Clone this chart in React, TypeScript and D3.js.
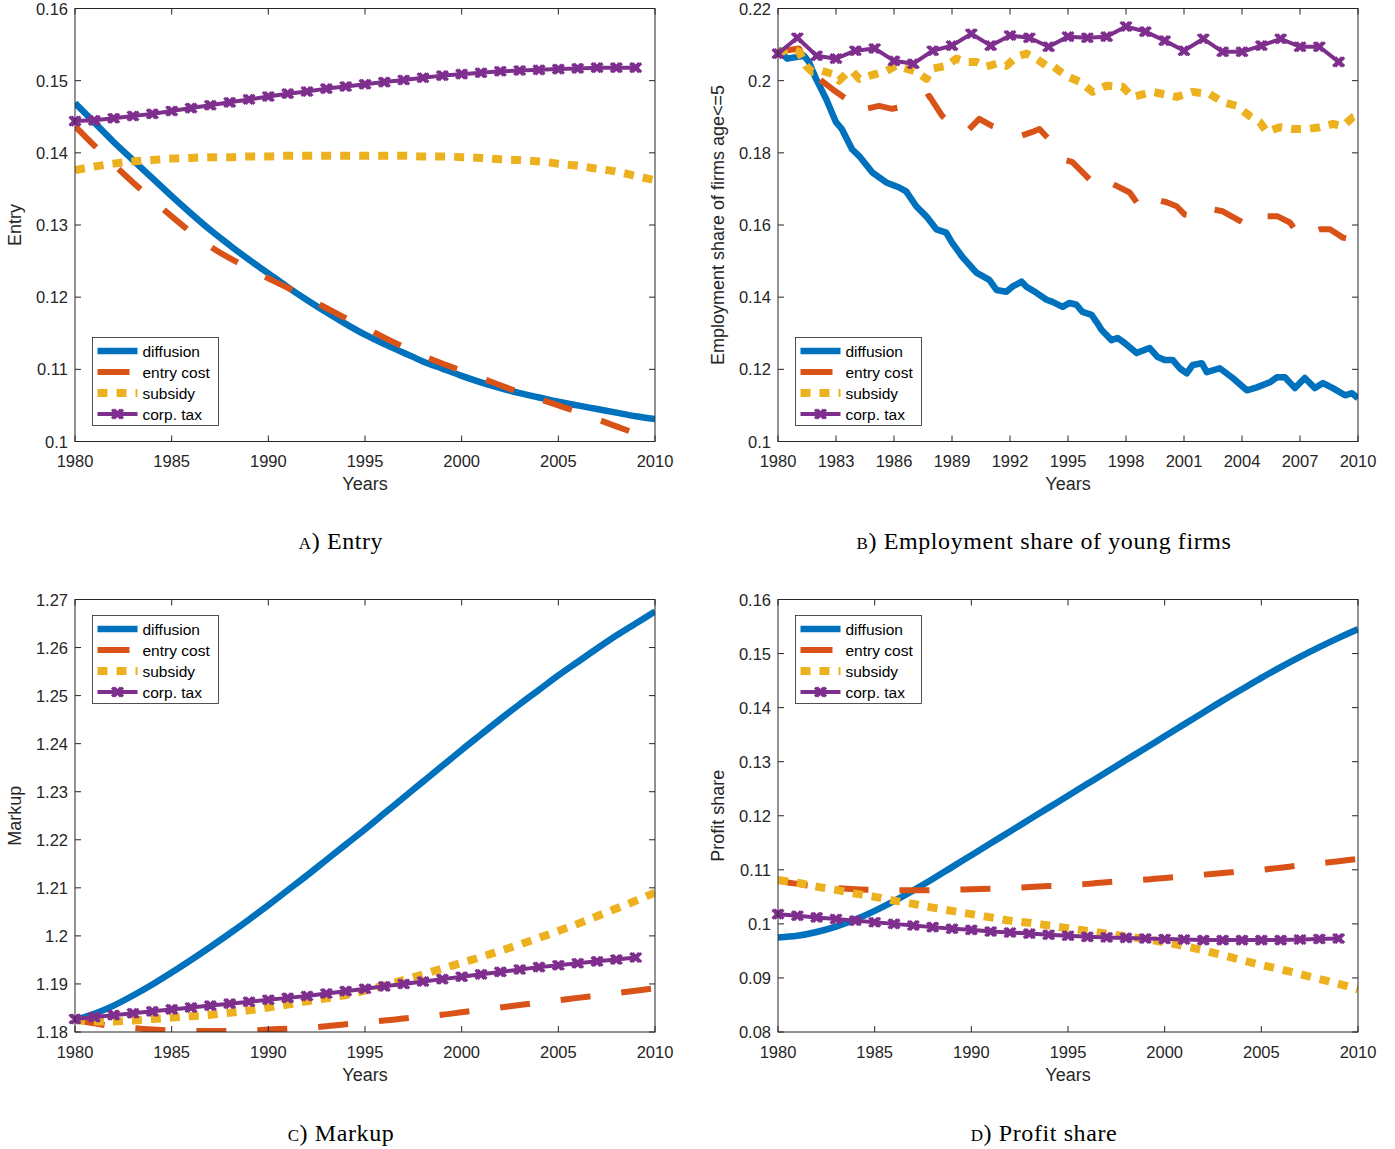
import * as d3 from "d3";

type Pt = [number, number];

// ---- shared axes data ----
const YEARS = [
  1980, 1981, 1982, 1983, 1984, 1985, 1986, 1987, 1988, 1989, 1990, 1991, 1992, 1993, 1994, 1995,
  1996, 1997, 1998, 1999, 2000, 2001, 2002, 2003, 2004, 2005, 2006, 2007, 2008, 2009, 2010,
];
const TAX_YEARS = YEARS.slice(0, 30);
const TICKS_5Y = [1980, 1985, 1990, 1995, 2000, 2005, 2010];
const TICKS_3Y = [1980, 1983, 1986, 1989, 1992, 1995, 1998, 2001, 2004, 2007, 2010];
const LEGEND_LABELS = ["diffusion", "entry cost", "subsidy", "corp. tax"];

// ---- a) Entry ----
const entryTicks = [0.1, 0.11, 0.12, 0.13, 0.14, 0.15, 0.16];
const entryDiffusion = [
  0.1469, 0.1442, 0.1415, 0.139, 0.1365, 0.134, 0.1316, 0.1293, 0.1272, 0.1252, 0.1233, 0.1214,
  0.1196, 0.1179, 0.1163, 0.1148, 0.1135, 0.1123, 0.1111, 0.1101, 0.1091, 0.1082, 0.1074, 0.1067,
  0.1061, 0.1055, 0.105, 0.1045, 0.104, 0.1035, 0.1031,
];
const entryCost = [
  0.1437, 0.141, 0.1384, 0.1359, 0.1335, 0.1312, 0.129, 0.127, 0.1254, 0.124, 0.1226, 0.1213,
  0.1199, 0.1185, 0.1171, 0.1158, 0.1144, 0.1131, 0.1119, 0.1108, 0.1098, 0.1088, 0.1078, 0.1068,
  0.1059, 0.105, 0.1041, 0.1031, 0.1021, 0.1011, 0.1,
];
const entrySubsidy = [
  0.1376, 0.1381, 0.1385, 0.1388, 0.139, 0.1392, 0.1393, 0.1394, 0.1394, 0.1395, 0.1395, 0.1396,
  0.1396, 0.1396, 0.1396, 0.1396, 0.1396, 0.1396, 0.1395, 0.1395, 0.1394, 0.1393, 0.1391, 0.139,
  0.1388, 0.1385, 0.1382, 0.1378, 0.1374, 0.1368, 0.1362,
];
const entryCorpTax = [
  0.1444, 0.1445, 0.1448, 0.1451, 0.1454, 0.1458, 0.1462, 0.1466, 0.147, 0.1474, 0.1478, 0.1482,
  0.1485, 0.1489, 0.1492, 0.1495, 0.1498, 0.1501, 0.1504, 0.1507, 0.1509, 0.1511, 0.1513, 0.1514,
  0.1515, 0.1516, 0.1517, 0.1518, 0.1518, 0.1518,
];

// ---- b) Employment share of young firms ----
const jobsTicks = [0.1, 0.12, 0.14, 0.16, 0.18, 0.2, 0.22];
const jobsDiffusion: Pt[] = [
  [1980.0, 0.2088], [1980.47, 0.2061], [1981.35, 0.2069], [1981.6, 0.2052], [1981.97, 0.2005],
  [1982.49, 0.1949], [1983.0, 0.1885], [1983.3, 0.1866], [1983.83, 0.181], [1984.2, 0.1791],
  [1984.87, 0.1746], [1985.6, 0.1718], [1986.27, 0.1704], [1986.63, 0.1693], [1987.15, 0.1652],
  [1987.67, 0.1624], [1988.19, 0.1588], [1988.7, 0.1579], [1989.0, 0.1551], [1989.53, 0.1512],
  [1990.26, 0.1468], [1990.93, 0.1448], [1991.3, 0.142], [1991.81, 0.1415], [1992.12, 0.1429],
  [1992.6, 0.1443], [1992.85, 0.1429], [1993.37, 0.1412], [1993.89, 0.1393], [1994.2, 0.1387],
  [1994.72, 0.1373], [1995.08, 0.1384], [1995.44, 0.1379], [1995.75, 0.1359], [1996.22, 0.1351],
  [1996.48, 0.1331], [1996.74, 0.1309], [1997.25, 0.1281], [1997.56, 0.1287], [1997.93, 0.1273],
  [1998.55, 0.1245], [1999.22, 0.1259], [1999.64, 0.1234], [2000.0, 0.1226], [2000.41, 0.1226],
  [2000.78, 0.1203], [2001.14, 0.1189], [2001.45, 0.1212], [2001.92, 0.1217], [2002.18, 0.1192],
  [2002.85, 0.1203], [2003.52, 0.1176], [2004.25, 0.1142], [2004.77, 0.115], [2005.44, 0.1164],
  [2005.8, 0.1178], [2006.22, 0.1178], [2006.74, 0.1148], [2007.25, 0.1176], [2007.77, 0.1148],
  [2008.19, 0.1162], [2008.7, 0.1148], [2009.33, 0.1128], [2009.69, 0.1134], [2010.0, 0.112],
];
const jobsEntryCost: Pt[] = [
  [1980.0, 0.208], [1981.09, 0.2089], [1981.76, 0.2013], [1982.12, 0.2005], [1982.8, 0.1977],
  [1983.52, 0.195], [1984.04, 0.1913], [1984.56, 0.1922], [1985.23, 0.193], [1985.9, 0.1922],
  [1986.63, 0.193], [1987.3, 0.1941], [1987.82, 0.1958], [1988.5, 0.1902], [1989.22, 0.1866],
  [1989.74, 0.1858], [1990.41, 0.1894], [1991.09, 0.1874], [1991.81, 0.186], [1992.49, 0.1846],
  [1993.16, 0.1858], [1993.52, 0.1866], [1994.4, 0.1816], [1994.72, 0.1782], [1995.23, 0.1774],
  [1996.11, 0.1727], [1996.63, 0.1699], [1997.15, 0.1718], [1998.19, 0.169], [1998.7, 0.1652],
  [1999.12, 0.1677], [2000.1, 0.1663], [2000.62, 0.1652], [2001.04, 0.1629], [2001.97, 0.1621],
  [2002.49, 0.1643], [2003.0, 0.1638], [2004.04, 0.1607], [2004.56, 0.1635], [2005.08, 0.1624],
  [2005.85, 0.1624], [2006.48, 0.1607], [2006.99, 0.1568], [2008.03, 0.1588], [2008.55, 0.1588],
  [2009.22, 0.1565], [2010.0, 0.1555],
];
const jobsSubsidy: Pt[] = [
  [1980.0, 0.2075], [1980.57, 0.2089], [1981.09, 0.208], [1981.45, 0.2041], [1981.76, 0.2025],
  [1982.28, 0.2027], [1982.8, 0.2019], [1983.16, 0.2], [1983.52, 0.2019], [1983.83, 0.2027],
  [1984.2, 0.2005], [1984.56, 0.2011], [1985.08, 0.2019], [1985.6, 0.2027], [1986.11, 0.2041],
  [1986.63, 0.2033], [1987.15, 0.2025], [1987.67, 0.2005], [1987.98, 0.2033], [1988.7, 0.2041],
  [1989.22, 0.2061], [1989.74, 0.2052], [1990.26, 0.2052], [1990.78, 0.2039], [1991.3, 0.2047],
  [1991.81, 0.2041], [1992.33, 0.2066], [1992.85, 0.2075], [1993.37, 0.2061], [1993.89, 0.2041],
  [1994.2, 0.2041], [1994.92, 0.2013], [1995.6, 0.1997], [1996.27, 0.1969], [1996.99, 0.1986],
  [1997.82, 0.1983], [1998.34, 0.1955], [1999.38, 0.1969], [1999.9, 0.1963], [2000.62, 0.1955],
  [2001.45, 0.1969], [2002.33, 0.1963], [2003.0, 0.1941], [2003.73, 0.193], [2004.4, 0.1902],
  [2004.92, 0.1885], [2005.28, 0.1858], [2005.96, 0.1871], [2006.63, 0.1866], [2007.36, 0.1866],
  [2008.03, 0.1871], [2008.7, 0.188], [2009.22, 0.1874], [2009.74, 0.1899], [2010.0, 0.1905],
];
const jobsCorpTax = [
  0.2075, 0.2119, 0.2069, 0.2061, 0.2083, 0.2089, 0.2055, 0.2047, 0.2083, 0.2097, 0.213, 0.2097,
  0.2125, 0.2119, 0.2094, 0.2122, 0.2119, 0.2122, 0.215, 0.2136, 0.2111, 0.2083, 0.2116, 0.208,
  0.208, 0.2097, 0.2116, 0.2094, 0.2094, 0.2052,
];

// ---- c) Markup ----
const markupTicks = [1.18, 1.19, 1.2, 1.21, 1.22, 1.23, 1.24, 1.25, 1.26, 1.27];
const markupDiffusion = [
  1.1825, 1.1838, 1.1855, 1.1876, 1.1899, 1.1924, 1.195, 1.1977, 1.2005, 1.2034, 1.2064, 1.2095,
  1.2126, 1.2158, 1.219, 1.2222, 1.2255, 1.2288, 1.2321, 1.2354, 1.2387, 1.2419, 1.2451, 1.2482,
  1.2512, 1.2542, 1.257, 1.2598, 1.2625, 1.265, 1.2675,
];
const markupEntry = [
  1.1825, 1.1818, 1.1812, 1.1808, 1.1805, 1.1803, 1.1802, 1.1802, 1.1802, 1.1803, 1.1805, 1.1807,
  1.1809, 1.1812, 1.1816, 1.1819, 1.1824, 1.1828, 1.1832, 1.1836, 1.1841, 1.1846, 1.1851, 1.1856,
  1.1861, 1.1866, 1.1871, 1.1876, 1.1881, 1.1886, 1.1891,
];
const markupSubsidy = [
  1.1825, 1.1822, 1.1822, 1.1824, 1.1827, 1.183, 1.1833, 1.1836, 1.184, 1.1845, 1.1851, 1.1857,
  1.1864, 1.187, 1.1877, 1.1886, 1.1897, 1.1908, 1.192, 1.1932, 1.1944, 1.1956, 1.1969, 1.1982,
  1.1996, 1.201, 1.2025, 1.2041, 1.2057, 1.2073, 1.209,
];
const markupCorpTax = [
  1.1827, 1.1831, 1.1835, 1.1839, 1.1843, 1.1847, 1.1851, 1.1855, 1.1859, 1.1863, 1.1867, 1.1871,
  1.1875, 1.188, 1.1885, 1.189, 1.1895, 1.19, 1.1905, 1.191, 1.1915, 1.192, 1.1925, 1.193, 1.1935,
  1.1939, 1.1943, 1.1947, 1.1951, 1.1955,
];

// ---- d) Profit share ----
const profitTicks = [0.08, 0.09, 0.1, 0.11, 0.12, 0.13, 0.14, 0.15, 0.16];
const profitDiffusion = [
  0.0975, 0.0978, 0.0985, 0.0995, 0.1008, 0.1024, 0.1042, 0.1062, 0.1083, 0.1105, 0.1127, 0.1149,
  0.1171, 0.1193, 0.1215, 0.1237, 0.1259, 0.1281, 0.1303, 0.1325, 0.1347, 0.1369, 0.1391, 0.1413,
  0.1434, 0.1455, 0.1475, 0.1494, 0.1512, 0.1529, 0.1545,
];
const profitEntry = [
  0.108, 0.1074, 0.1069, 0.1066, 0.1064, 0.1063, 0.1062, 0.1062, 0.1062, 0.1063, 0.1064, 0.1065,
  0.1066, 0.1068, 0.107, 0.1072, 0.1074, 0.1077, 0.108, 0.1082, 0.1085, 0.1088, 0.1091, 0.1094,
  0.1097, 0.11, 0.1104, 0.1108, 0.1112, 0.1116, 0.112,
];
const profitSubsidy = [
  0.1081, 0.1076, 0.1069, 0.1063, 0.1056, 0.105, 0.1043, 0.1037, 0.103, 0.1024, 0.1018, 0.1012,
  0.1006, 0.1002, 0.0997, 0.0992, 0.0987, 0.0982, 0.0977, 0.0972, 0.0966, 0.0959, 0.0951, 0.0942,
  0.0933, 0.0924, 0.0916, 0.0907, 0.0898, 0.0889, 0.0879,
];
const profitCorpTax = [
  0.1018, 0.1015, 0.1012, 0.1009, 0.1006, 0.1003, 0.1, 0.0997, 0.0994, 0.0991, 0.0989, 0.0986,
  0.0984, 0.0982, 0.098, 0.0978, 0.0976, 0.0975, 0.0974, 0.0973, 0.0972, 0.0971, 0.097, 0.097,
  0.097, 0.097, 0.097, 0.0971, 0.0972, 0.0973,
];

// ---- styling ----
const COLOR = { diffusion: "#0072BD", entry: "#D95319", subsidy: "#EDB120", tax: "#7E2F8E" };
const STYLE = {
  diffusion: { width: 6.5, dash: undefined as string | undefined },
  entry: { width: 6, dash: "30 31" },
  subsidy: { width: 8, dash: "10 9" },
  tax: { width: 4, dash: undefined as string | undefined },
};
const KEYS = ["diffusion", "entry", "subsidy", "tax"] as const;
const INK = "#262626";
const SANS = "'Liberation Sans', Arial, Helvetica, sans-serif";
const SERIF = "'Liberation Serif', 'Times New Roman', serif";
// bold "x" marker, two slightly offset crosses like the matlab render
const MARKER = "M-5.5,-4.5L3.5,4.5M-5.5,4.5L3.5,-4.5M-3.5,-4.5L5.5,4.5M-3.5,4.5L5.5,-4.5";

const zip = (xs: number[], ys: number[]): Pt[] => ys.map((v, i) => [xs[i], v]);

interface Series {
  diffusion: Pt[];
  entry: Pt[];
  subsidy: Pt[];
  tax: Pt[];
}

interface PanelProps {
  id: string;
  left: number;
  right: number;
  top: number;
  bottom: number;
  yDomain: [number, number];
  xTicks: number[];
  yTicks: number[];
  yLabel: string;
  series: Series;
  smooth: boolean;
  legendAt: "top" | "bottom";
  letter: string;
  caption: string;
  captionX: number;
  captionY: number;
}

const Panel = (p: PanelProps) => {
  const x = d3.scaleLinear().domain([1980, 2010]).range([p.left, p.right]);
  const y = d3.scaleLinear().domain(p.yDomain).range([p.bottom, p.top]);
  const fmt = d3.format("~g");
  const clip = `clip-${p.id}`;
  const pathFor = (k: (typeof KEYS)[number]) =>
    d3
      .line<Pt>()
      .x((d) => x(d[0]))
      .y((d) => y(d[1]))
      .curve(p.smooth && k !== "tax" ? d3.curveMonotoneX : d3.curveLinear)(p.series[k]) ?? "";

  // legend box
  const lx = p.left + 17.5;
  const ly = p.legendAt === "top" ? p.top + 16 : p.bottom - 16 - 88;
  const rowY = [13.5, 34.5, 55.5, 76.5];

  return (
    <g>
      <defs>
        <clipPath id={clip}>
          <rect x={p.left} y={p.top} width={p.right - p.left} height={p.bottom - p.top} />
        </clipPath>
      </defs>

      {/* lines */}
      <g clipPath={`url(#${clip})`}>
        {KEYS.map((k) => (
          <path
            key={k}
            d={pathFor(k)}
            fill="none"
            stroke={COLOR[k]}
            strokeWidth={STYLE[k].width}
            strokeDasharray={STYLE[k].dash}
            strokeLinejoin="round"
          />
        ))}
      </g>
      {p.series.tax.map((d, i) => (
        <path
          key={i}
          d={MARKER}
          transform={`translate(${x(d[0])},${y(d[1])})`}
          fill="none"
          stroke={COLOR.tax}
          strokeWidth={3}
        />
      ))}

      {/* axes box and ticks */}
      <rect
        x={p.left}
        y={p.top}
        width={p.right - p.left}
        height={p.bottom - p.top}
        fill="none"
        stroke={INK}
        strokeWidth={1}
      />
      {p.xTicks.map((t) => (
        <g key={t}>
          <line x1={x(t)} x2={x(t)} y1={p.bottom} y2={p.bottom - 6} stroke={INK} />
          <line x1={x(t)} x2={x(t)} y1={p.top} y2={p.top + 6} stroke={INK} />
          <text
            x={x(t)}
            y={p.bottom + 25.5}
            textAnchor="middle"
            fontFamily={SANS}
            fontSize={16.5}
            fill={INK}
          >
            {t}
          </text>
        </g>
      ))}
      {p.yTicks.map((t) => (
        <g key={t}>
          <line x1={p.left} x2={p.left + 6} y1={y(t)} y2={y(t)} stroke={INK} />
          <line x1={p.right} x2={p.right - 6} y1={y(t)} y2={y(t)} stroke={INK} />
          <text
            x={p.left - 7}
            y={y(t) + 6}
            textAnchor="end"
            fontFamily={SANS}
            fontSize={16.5}
            fill={INK}
          >
            {fmt(t)}
          </text>
        </g>
      ))}
      <text
        x={(p.left + p.right) / 2}
        y={p.bottom + 48.5}
        textAnchor="middle"
        fontFamily={SANS}
        fontSize={18}
        fill={INK}
      >
        Years
      </text>
      <text
        transform={`translate(${p.left - 54},${(p.top + p.bottom) / 2}) rotate(-90)`}
        textAnchor="middle"
        fontFamily={SANS}
        fontSize={18}
        fill={INK}
      >
        {p.yLabel}
      </text>

      {/* legend */}
      <g>
        <rect x={lx} y={ly} width={126} height={88} fill="#fff" stroke={INK} strokeWidth={0.8} />
        {KEYS.map((k, i) => (
          <g key={k}>
            <line
              x1={lx + 5}
              x2={k === "entry" ? lx + 37 : lx + 45}
              y1={ly + rowY[i]}
              y2={ly + rowY[i]}
              stroke={COLOR[k]}
              strokeWidth={STYLE[k].width}
              strokeDasharray={k === "subsidy" ? STYLE.subsidy.dash : undefined}
            />
            {k === "tax" && (
              <path
                d={MARKER}
                transform={`translate(${lx + 25},${ly + rowY[i]})`}
                fill="none"
                stroke={COLOR.tax}
                strokeWidth={3}
              />
            )}
            <text
              x={lx + 50}
              y={ly + rowY[i] + 5.5}
              fontFamily={SANS}
              fontSize={15.5}
              fill="#000"
            >
              {LEGEND_LABELS[i]}
            </text>
          </g>
        ))}
      </g>

      {/* caption */}
      <text
        x={p.captionX}
        y={p.captionY}
        textAnchor="middle"
        fontFamily={SERIF}
        fontSize={24}
        letterSpacing={0.6}
        fill="#000"
      >
        <tspan fontVariant="small-caps">{p.letter}</tspan>
        {") " + p.caption}
      </text>
    </g>
  );
};

export default function App() {
  return (
    <svg
      width={1395}
      height={1149}
      style={{ position: "absolute", left: 0, top: 0, background: "#fff" }}
    >
      <Panel
        id="a"
        left={75}
        right={655}
        top={8.5}
        bottom={441.5}
        yDomain={[0.1, 0.16]}
        xTicks={TICKS_5Y}
        yTicks={entryTicks}
        yLabel="Entry"
        series={{
          diffusion: zip(YEARS, entryDiffusion),
          entry: zip(YEARS, entryCost),
          subsidy: zip(YEARS, entrySubsidy),
          tax: zip(TAX_YEARS, entryCorpTax),
        }}
        smooth
        legendAt="bottom"
        letter="a"
        caption="Entry"
        captionX={341}
        captionY={549}
      />
      <Panel
        id="b"
        left={778}
        right={1358}
        top={8.5}
        bottom={441.5}
        yDomain={[0.1, 0.22]}
        xTicks={TICKS_3Y}
        yTicks={jobsTicks}
        yLabel="Employment share of firms age<=5"
        series={{
          diffusion: jobsDiffusion,
          entry: jobsEntryCost,
          subsidy: jobsSubsidy,
          tax: zip(TAX_YEARS, jobsCorpTax),
        }}
        smooth={false}
        legendAt="bottom"
        letter="b"
        caption="Employment share of young firms"
        captionX={1044}
        captionY={549}
      />
      <Panel
        id="c"
        left={75}
        right={655}
        top={599.5}
        bottom={1032}
        yDomain={[1.18, 1.27]}
        xTicks={TICKS_5Y}
        yTicks={markupTicks}
        yLabel="Markup"
        series={{
          diffusion: zip(YEARS, markupDiffusion),
          entry: zip(YEARS, markupEntry),
          subsidy: zip(YEARS, markupSubsidy),
          tax: zip(TAX_YEARS, markupCorpTax),
        }}
        smooth
        legendAt="top"
        letter="c"
        caption="Markup"
        captionX={341}
        captionY={1141}
      />
      <Panel
        id="d"
        left={778}
        right={1358}
        top={599.5}
        bottom={1032}
        yDomain={[0.08, 0.16]}
        xTicks={TICKS_5Y}
        yTicks={profitTicks}
        yLabel="Profit share"
        series={{
          diffusion: zip(YEARS, profitDiffusion),
          entry: zip(YEARS, profitEntry),
          subsidy: zip(YEARS, profitSubsidy),
          tax: zip(TAX_YEARS, profitCorpTax),
        }}
        smooth
        legendAt="top"
        letter="d"
        caption="Profit share"
        captionX={1044}
        captionY={1141}
      />
    </svg>
  );
}
